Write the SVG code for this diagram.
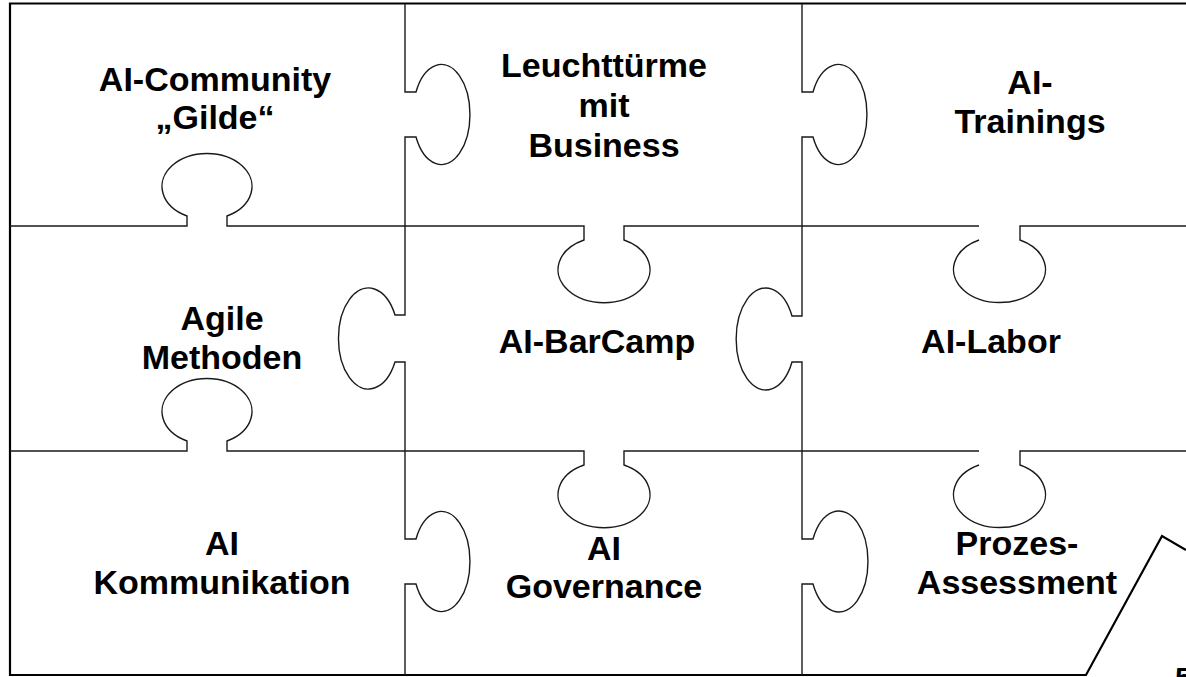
<svg xmlns="http://www.w3.org/2000/svg" width="1186" height="677" viewBox="0 0 1186 677">
<style>
.bg{fill:#ffffff}
.frame{fill:none;stroke:#000;stroke-width:2.2;stroke-linejoin:miter}
.cut{fill:none;stroke:#1a1a1a;stroke-width:1.4}
.lbl{font-family:"Liberation Sans",Arial,sans-serif;font-weight:bold;font-size:34px;fill:#000;text-anchor:middle}
</style>
<rect class="bg" x="0" y="0" width="1186" height="677"/>
<g id="connectors">
<path class="frame" d="M1186,3.5 H10 V675 H1086 L1162,536 L1186,550"/>
<path class="cut" d="M405,4 V92 H416 A28.5,50 0 1 1 416,137 H405 V315 H395 A30,50.5 0 1 0 395,362 H405 V539 H416 A28.5,50 0 1 1 416,584 H405 V675"/>
<path class="cut" d="M802,4 V92 H813 A28.5,50 0 1 1 813,137 H802 V316 H792 A29.5,51 0 1 0 792,362 H802 V539 H813 A29,50.5 0 1 1 813,584 H802 V675"/>
<path class="cut" d="M10,226 H187 V216 A45,33 0 1 1 227,216 V226 H584 V240 A46,33 0 1 0 624,240 V226 H979 M979,240 A46,33 0 1 0 1020,240 V226 H1186"/>
<path class="cut" d="M10,451 H187 V441 A45,33 0 1 1 227,441 V451 H584 V465 A46,33 0 1 0 624,465 V451 H979 M979,465 A46,33 0 1 0 1020,465 V451 H1186"/>
</g>
<g id="piece-ai-community"><text class="lbl" x="215" y="91">AI-Community</text><text class="lbl" x="215" y="129">„Gilde“</text></g>
<g id="piece-leuchttuerme"><text class="lbl" x="604" y="77">Leuchttürme</text><text class="lbl" x="604" y="117">mit</text><text class="lbl" x="604" y="157">Business</text></g>
<g id="piece-ai-trainings"><text class="lbl" x="1030" y="94">AI-</text><text class="lbl" x="1030" y="133">Trainings</text></g>
<g id="piece-agile"><text class="lbl" x="222" y="330">Agile</text><text class="lbl" x="222" y="369">Methoden</text></g>
<g id="piece-barcamp"><text class="lbl" x="597" y="353">AI-BarCamp</text></g>
<g id="piece-labor"><text class="lbl" x="991" y="353">AI-Labor</text></g>
<g id="piece-kommunikation"><text class="lbl" x="222" y="555">AI</text><text class="lbl" x="222" y="594">Kommunikation</text></g>
<g id="piece-governance"><text class="lbl" x="604" y="560">AI</text><text class="lbl" x="604" y="598">Governance</text></g>
<g id="piece-prozess"><text class="lbl" x="1017" y="555">Prozes-</text><text class="lbl" x="1017" y="594">Assessment</text></g>
<g id="page-number"><text x="1175" y="688" style="font-family:'Liberation Sans',Arial,sans-serif;font-weight:bold;font-size:30px;fill:#000">5</text></g>
</svg>
